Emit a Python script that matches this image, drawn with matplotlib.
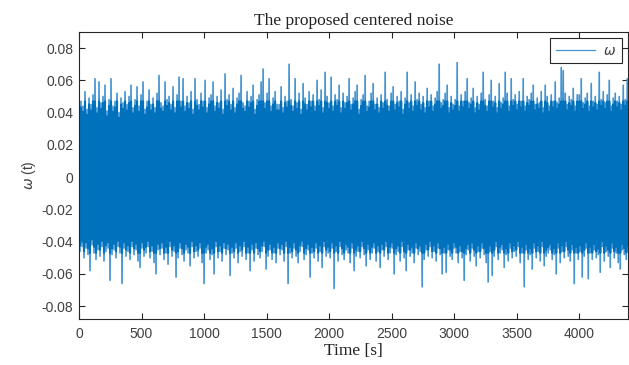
import numpy as np
import matplotlib
matplotlib.use("Agg")
import matplotlib.pyplot as plt

# ---- data (in units of 1e-3) ----
sample_period = 8.0  # seconds between samples
peaks_milli = [
    64,47,44,53,42,49,45,51,61,43,59,46,50,57,41,48,61,44,47,52,40,49,46,53,45,
    50,57,43,48,56,44,51,59,42,47,54,45,49,43,52,63,46,44,59,48,50,45,56,43,51,
    62,47,61,44,50,46,53,42,61,48,45,52,47,60,43,49,51,59,44,50,46,54,42,64,48,
    51,45,55,43,49,52,63,46,44,53,47,50,57,42,48,51,59,67,46,52,61,44,49,53,45,
    45,56,43,50,47,70,48,44,61,46,52,42,58,49,45,53,47,51,44,60,48,54,43,65,50,
    46,62,44,51,48,57,43,52,46,50,61,45,49,53,57,42,48,51,63,44,47,52,58,45,49,
    43,51,46,65,48,44,52,56,45,50,47,53,42,49,65,46,51,44,59,48,52,45,50,43,55,
    47,51,44,49,53,70,46,48,52,57,43,50,45,48,71,44,51,47,53,61,46,49,55,43,50,
    45,52,65,48,44,51,60,47,50,43,58,46,49,65,52,44,61,48,51,45,53,47,61,44,50,
    48,52,57,45,49,46,53,43,57,50,44,51,47,59,46,49,68,66,52,45,50,48,55,44,51,
    51,61,46,49,52,44,58,47,50,45,65,48,53,46,51,60,44,49,52,47,50,45,57,48,61,
]
troughs_milli = [
    46,43,50,44,48,58,42,47,51,45,49,43,52,46,44,64,48,45,50,43,47,66,44,49,46,
    51,43,48,45,52,56,44,49,47,43,50,46,53,60,45,48,44,51,47,54,43,49,46,62,50,
    44,48,52,45,47,55,43,50,46,49,44,53,66,47,45,51,48,60,43,50,46,52,44,48,45,
    61,47,50,44,53,46,49,43,51,47,58,45,52,44,48,50,46,43,57,49,45,51,47,53,44,
    48,45,52,43,66,47,50,44,49,53,46,43,51,48,45,62,47,50,44,52,46,56,43,49,47,
    50,44,69,46,52,43,48,51,45,47,53,44,58,49,46,50,43,48,55,45,51,47,44,52,46,
    56,45,49,43,51,47,44,60,48,46,52,43,50,58,45,49,47,53,44,48,46,68,51,45,49,
    43,50,46,52,44,48,60,47,59,45,49,51,44,47,53,46,50,64,48,45,52,44,49,55,46,
    50,44,48,53,65,46,61,49,43,51,47,45,56,48,52,44,50,46,49,43,53,47,68,45,51,
    48,57,44,50,46,52,43,55,49,47,45,51,48,60,44,53,46,50,43,49,52,45,66,47,51,
    46,62,49,44,63,47,51,45,50,48,59,43,52,46,49,56,44,50,47,53,57,45,48,51,46,
]
xtick_values = [0, 500, 1000, 1500, 2000, 2500, 3000, 3500, 4000]
ytick_values = [-0.08, -0.06, -0.04, -0.02, 0, 0.02, 0.04, 0.06, 0.08]
ytick_labels = ['-0.08', '-0.06', '-0.04', '-0.02', '0', '0.02', '0.04', '0.06', '0.08']
title_text = 'The proposed centered noise'
xlabel_text = 'Time [s]'
ylabel_text = r'$\omega$ (t)'
legend_label = r'$\omega$'

# interleave peaks and troughs into one sample sequence
omega = np.empty(len(peaks_milli) + len(troughs_milli))
omega[0::2] = np.array(peaks_milli) / 1000.0
omega[1::2] = -np.array(troughs_milli) / 1000.0
t = np.arange(len(omega)) * sample_period

# ---- figure ----
W, H = 629, 365
fig = plt.figure(figsize=(W / 100, H / 100), dpi=100)
ax = fig.add_axes([79 / W, 1 - 319 / H, (628 - 79) / W, (319 - 32) / H])

blue = '#0072BD'
light_blue = '#4494d2'
# full signal: thin isolated excursions render lighter (as in the antialiased original)
ax.plot(t, omega, color=light_blue, linewidth=1.2, label=legend_label)
# dense overlapping core of the same signal renders as solid blue
ax.plot(t, np.clip(0.92 * omega, -0.047, 0.047), color=blue, linewidth=1.5)

ax.set_xlim(0, 4390)
ax.set_ylim(-0.088, 0.090)
ax.set_xticks(xtick_values)
ax.set_yticks(ytick_values)
ax.set_yticklabels(ytick_labels)

tick_col = '#404040'
for sp in ax.spines.values():
    sp.set_color('#262626')
    sp.set_linewidth(0.8)
ax.tick_params(direction='in', top=True, right=True, length=4, width=0.8,
               colors='#262626', labelcolor=tick_col, labelsize=10)
for lab in ax.get_xticklabels() + ax.get_yticklabels():
    lab.set_family('Liberation Sans')
ax.tick_params(axis='x', pad=6)
ax.tick_params(axis='y', pad=4)

ax.set_title(title_text, family='Liberation Serif', fontsize=12.5,
             color='#222222', pad=5)
ax.set_xlabel(xlabel_text, family='Liberation Serif', fontsize=12.5,
              color='#222222', labelpad=1)
ax.set_ylabel(ylabel_text, family='Liberation Sans', fontsize=10,
              color=tick_col, labelpad=3)

leg = ax.legend(loc='upper right', fontsize=10, handlelength=2.8,
                fancybox=False, framealpha=1, edgecolor='#262626',
                borderaxespad=0.45, handletextpad=0.6, borderpad=0.4)
leg.get_frame().set_linewidth(0.8)
leg.get_lines()[0].set_linewidth(0.9)
for txt in leg.get_texts():
    txt.set_color(tick_col)

fig.savefig('out.png', dpi=100)
